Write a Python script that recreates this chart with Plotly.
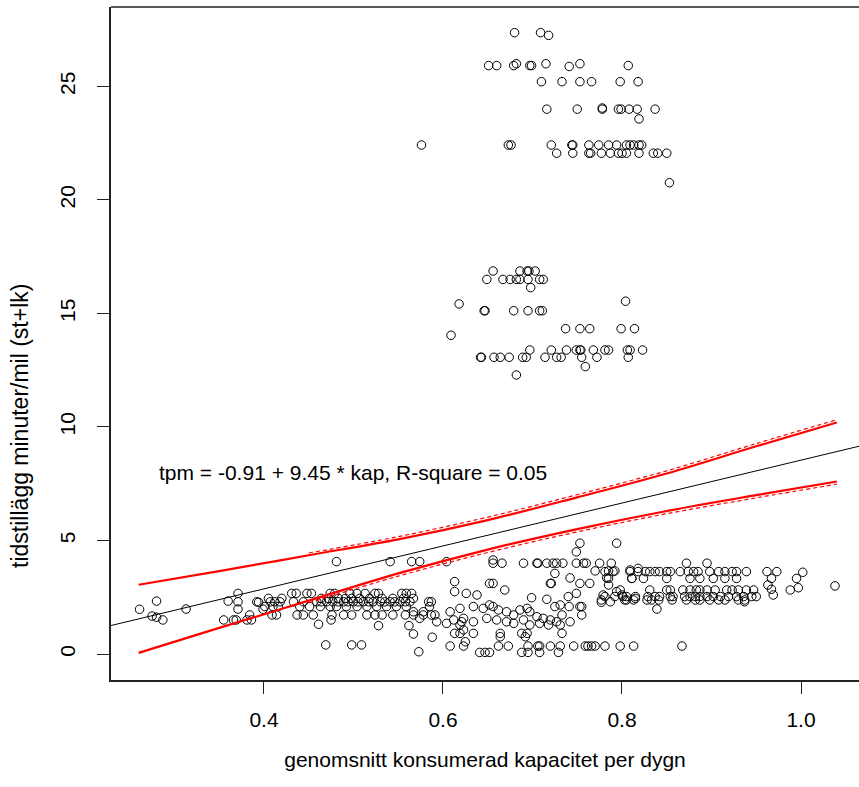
import plotly.graph_objects as go

# ---- scatter data (kap, tpm), grouped by cluster ----
top_pts = [
    (0.680, 27.37), (0.709, 27.37), (0.718, 27.25),
    (0.651, 25.92), (0.660, 25.92), (0.679, 25.92), (0.682, 26.0), (0.697, 25.92), (0.699, 25.92),
    (0.715, 26.0), (0.741, 25.88), (0.753, 26.0), (0.807, 25.92),
    (0.710, 25.21), (0.733, 25.21), (0.753, 25.21), (0.766, 25.21), (0.798, 25.21), (0.818, 25.21),
    (0.716, 24.0), (0.750, 24.0), (0.778, 24.0), (0.778, 24.05), (0.796, 24.0), (0.799, 24.0),
    (0.808, 24.0), (0.817, 24.0), (0.837, 24.0), (0.819, 23.57),
    (0.576, 22.42), (0.673, 22.42), (0.676, 22.42), (0.721, 22.42), (0.744, 22.42), (0.745, 22.42),
    (0.763, 22.42), (0.774, 22.42), (0.785, 22.42), (0.794, 22.42), (0.805, 22.42), (0.809, 22.42),
    (0.813, 22.42), (0.819, 22.42), (0.822, 22.42),
    (0.727, 22.06), (0.745, 22.06), (0.763, 22.06), (0.765, 22.06), (0.777, 22.06), (0.787, 22.06),
    (0.796, 22.06), (0.800, 22.06), (0.805, 22.06), (0.819, 22.06), (0.835, 22.06), (0.840, 22.06),
    (0.850, 22.06), (0.853, 20.76),
]

mid_pts = [
    (0.656, 16.87), (0.686, 16.87), (0.694, 16.87), (0.696, 16.87), (0.703, 16.87),
    (0.649, 16.5), (0.667, 16.5), (0.675, 16.5), (0.682, 16.5), (0.686, 16.5), (0.695, 16.5),
    (0.708, 16.5), (0.712, 16.5), (0.698, 16.14), (0.618, 15.42), (0.804, 15.54),
    (0.646, 15.12), (0.647, 15.12), (0.679, 15.12), (0.695, 15.12), (0.708, 15.12), (0.711, 15.12),
    (0.737, 14.33), (0.753, 14.33), (0.764, 14.33), (0.799, 14.33), (0.814, 14.33), (0.609, 14.04),
    (0.697, 13.39), (0.721, 13.39), (0.738, 13.39), (0.749, 13.39), (0.753, 13.39), (0.754, 13.39),
    (0.768, 13.39), (0.781, 13.39), (0.785, 13.39), (0.806, 13.39), (0.809, 13.39), (0.823, 13.39),
    (0.642, 13.07), (0.643, 13.07), (0.657, 13.07), (0.664, 13.07), (0.674, 13.07), (0.689, 13.07),
    (0.693, 13.07), (0.714, 13.07), (0.727, 13.07), (0.732, 13.07), (0.755, 13.07), (0.772, 13.07),
    (0.807, 13.07), (0.759, 12.66), (0.682, 12.29),
]

low_left_pts = [
    (0.261, 1.97), (0.280, 2.33), (0.275, 1.67), (0.280, 1.62), (0.287, 1.50), (0.313, 1.98),
    (0.355, 1.50), (0.360, 2.33), (0.371, 2.67), (0.371, 2.30), (0.371, 1.98), (0.366, 1.50),
    (0.369, 1.50), (0.381, 1.50), (0.386, 1.50), (0.394, 2.28), (0.399, 1.97),
    (0.481, 4.07), (0.541, 4.07), (0.565, 4.07), (0.574, 4.07),
    (0.431, 2.67), (0.436, 2.67), (0.448, 2.67), (0.453, 2.67), (0.474, 2.67), (0.479, 2.67),
    (0.496, 2.67), (0.504, 2.67), (0.513, 2.67), (0.524, 2.67), (0.528, 2.67), (0.554, 2.67),
    (0.559, 2.67), (0.565, 2.67),
    (0.405, 2.45), (0.420, 2.45), (0.464, 2.45), (0.472, 2.45), (0.483, 2.45), (0.491, 2.45),
    (0.498, 2.45), (0.507, 2.45), (0.518, 2.45), (0.532, 2.45), (0.544, 2.45), (0.556, 2.45),
    (0.567, 2.45),
    (0.392, 2.30), (0.407, 2.30), (0.412, 2.30), (0.418, 2.30), (0.433, 2.30), (0.444, 2.30),
    (0.459, 2.30), (0.464, 2.30), (0.470, 2.30), (0.477, 2.30), (0.483, 2.30), (0.489, 2.30),
    (0.494, 2.30), (0.500, 2.30), (0.505, 2.30), (0.511, 2.30), (0.517, 2.30), (0.522, 2.30),
    (0.530, 2.30), (0.535, 2.30), (0.541, 2.30), (0.546, 2.30), (0.552, 2.30), (0.558, 2.30),
    (0.563, 2.30), (0.584, 2.30), (0.587, 2.30),
    (0.401, 2.09), (0.410, 2.09), (0.416, 2.09), (0.440, 2.09), (0.451, 2.09), (0.463, 2.09),
    (0.474, 2.09), (0.481, 2.09), (0.492, 2.09), (0.504, 2.09), (0.515, 2.09), (0.526, 2.09),
    (0.537, 2.09), (0.548, 2.09), (0.559, 2.09), (0.585, 2.09),
    (0.384, 1.72), (0.409, 1.72), (0.414, 1.72), (0.437, 1.72), (0.444, 1.72), (0.455, 1.72),
    (0.476, 1.72), (0.489, 1.72), (0.498, 1.72), (0.515, 1.72), (0.524, 1.72), (0.532, 1.72),
    (0.544, 1.72), (0.558, 1.72), (0.567, 1.72), (0.578, 1.72), (0.591, 1.72),
    (0.567, 1.86), (0.578, 1.86), (0.574, 1.57), (0.593, 1.42), (0.461, 1.31), (0.475, 1.50),
    (0.528, 1.25), (0.562, 1.25), (0.567, 0.88), (0.588, 0.74), (0.469, 0.40), (0.498, 0.40),
    (0.509, 0.40), (0.573, 0.10), (0.587, 1.72),
]

low_mid_pts = [
    (0.604, 4.07), (0.656, 4.14), (0.656, 4.0), (0.666, 4.0), (0.690, 4.0), (0.705, 4.0),
    (0.706, 4.0), (0.716, 4.0), (0.723, 4.0), (0.727, 4.0), (0.734, 4.0), (0.749, 4.0),
    (0.757, 4.0), (0.760, 4.0), (0.749, 4.5), (0.753, 4.88), (0.725, 3.55), (0.742, 3.35),
    (0.613, 3.19), (0.652, 3.11), (0.656, 3.11), (0.720, 3.11), (0.721, 3.11), (0.753, 3.11),
    (0.764, 3.11), (0.613, 2.75), (0.626, 2.67), (0.638, 2.60), (0.669, 2.82), (0.699, 2.48),
    (0.716, 2.41), (0.740, 2.53), (0.749, 2.67), (0.731, 2.16), (0.725, 2.09), (0.755, 2.09),
    (0.755, 1.72), (0.741, 2.09), (0.742, 1.42), (0.753, 2.09),
    (0.608, 1.86), (0.619, 2.01), (0.634, 2.09), (0.645, 2.01), (0.652, 2.16), (0.656, 2.09),
    (0.662, 1.94), (0.671, 1.86), (0.679, 1.72), (0.686, 1.94), (0.694, 2.01), (0.697, 1.86),
    (0.705, 1.64), (0.712, 1.57), (0.720, 1.50), (0.727, 1.42), (0.733, 1.72), (0.612, 1.50),
    (0.623, 1.57), (0.634, 1.42), (0.649, 1.57), (0.660, 1.50), (0.671, 1.42), (0.679, 1.35),
    (0.690, 1.50), (0.697, 1.28), (0.708, 1.35), (0.718, 1.28), (0.731, 1.28), (0.604, 1.35),
    (0.619, 1.28), (0.621, 1.42), (0.623, 1.06), (0.625, 0.54),
    (0.613, 0.91), (0.619, 0.91), (0.634, 0.91), (0.664, 0.91), (0.688, 0.91), (0.694, 0.91),
    (0.733, 0.91), (0.664, 0.76), (0.692, 0.76),
    (0.608, 0.35), (0.623, 0.35), (0.662, 0.35), (0.673, 0.35), (0.695, 0.35), (0.706, 0.35),
    (0.708, 0.35), (0.720, 0.35), (0.731, 0.35), (0.746, 0.35), (0.759, 0.35), (0.762, 0.35),
    (0.766, 0.35), (0.770, 0.35), (0.781, 0.35), (0.798, 0.35), (0.813, 0.35), (0.867, 0.35),
    (0.641, 0.07), (0.647, 0.07), (0.652, 0.07), (0.688, 0.07), (0.695, 0.07), (0.708, 0.07),
    (0.729, 0.07),
]

low_right_pts = [
    (0.794, 4.88), (0.770, 3.66), (0.785, 3.66), (0.792, 3.66), (0.783, 3.35), (0.775, 4.0),
    (0.788, 4.0), (0.872, 4.0), (0.895, 4.0),
    (0.781, 3.63), (0.790, 3.63), (0.809, 3.63), (0.818, 3.63), (0.826, 3.63), (0.831, 3.63),
    (0.837, 3.63), (0.842, 3.63), (0.850, 3.63), (0.854, 3.63), (0.865, 3.63), (0.874, 3.63),
    (0.880, 3.63), (0.885, 3.63), (0.898, 3.63), (0.908, 3.63), (0.915, 3.63), (0.923, 3.63),
    (0.928, 3.63), (0.939, 3.63), (0.962, 3.63), (0.973, 3.63),
    (0.785, 3.33), (0.811, 3.33), (0.824, 3.33), (0.850, 3.33), (0.876, 3.33), (0.887, 3.33),
    (0.902, 3.33), (0.915, 3.33), (0.928, 3.33), (0.967, 3.33), (0.995, 3.33),
    (0.785, 3.04), (0.963, 3.04), (1.002, 3.60), (1.038, 3.0), (0.988, 2.82), (0.997, 2.92),
    (0.967, 2.85), (0.969, 2.60),
    (0.798, 2.82), (0.831, 2.82), (0.850, 2.82), (0.854, 2.82), (0.868, 2.82), (0.876, 2.82),
    (0.883, 2.82), (0.887, 2.82), (0.895, 2.82), (0.904, 2.82), (0.917, 2.82), (0.923, 2.82),
    (0.930, 2.82), (0.939, 2.82), (0.947, 2.82),
    (0.781, 2.53), (0.792, 2.53), (0.801, 2.53), (0.805, 2.53), (0.815, 2.53), (0.829, 2.53),
    (0.837, 2.53), (0.842, 2.53), (0.854, 2.53), (0.857, 2.53), (0.870, 2.53), (0.876, 2.53),
    (0.882, 2.53), (0.887, 2.53), (0.895, 2.53), (0.902, 2.53), (0.910, 2.53), (0.919, 2.53),
    (0.928, 2.53), (0.936, 2.53), (0.945, 2.53), (0.950, 2.53),
    (0.777, 2.38), (0.803, 2.38), (0.813, 2.38), (0.828, 2.38), (0.833, 2.38), (0.841, 2.38),
    (0.856, 2.38), (0.872, 2.38), (0.882, 2.38), (0.887, 2.38), (0.898, 2.38), (0.908, 2.38),
    (0.915, 2.38), (0.930, 2.38), (0.937, 2.38),
    (0.839, 1.98), (0.937, 2.30), (0.779, 2.6), (0.794, 2.75), (0.800, 2.6), (0.805, 2.38),
    (0.815, 2.45), (0.811, 3.33), (0.809, 3.7), (0.818, 3.77), (0.787, 2.30), (0.777, 2.28),
]

# ---- regression line (abline) and confidence band ----
fit_x = [0.2291, 1.0648]
fit_y = [1.255, 9.152]

band_x = [0.26, 0.35, 0.45, 0.55, 0.65, 0.75, 0.85, 0.95, 1.04]
band_upper = [3.05, 3.65, 4.35, 5.05, 5.90, 6.90, 7.95, 9.15, 10.20]
band_lower = [0.05, 1.15, 2.35, 3.55, 4.60, 5.50, 6.30, 7.00, 7.60]
# slightly offset dashed companions of the band lines
dash_x = [0.45, 0.55, 0.65, 0.75, 0.85, 0.95, 1.04]
dash_upper = [4.45, 5.17, 6.03, 7.02, 8.07, 9.27, 10.32]
dash_lower = [2.25, 3.43, 4.47, 5.38, 6.18, 6.88, 7.48]

x_ticks = [0.4, 0.6, 0.8, 1.0]
x_tick_labels = ["0.4", "0.6", "0.8", "1.0"]
y_ticks = [0, 5, 10, 15, 20, 25]

all_pts = top_pts + mid_pts + low_left_pts + low_mid_pts + low_right_pts
kap = [p[0] for p in all_pts]
tpm = [p[1] for p in all_pts]

FONT = "Arial, 'Liberation Sans', sans-serif"
FS = 21

fig = go.Figure()
fig.add_trace(go.Scatter(
    x=kap, y=tpm, mode="markers",
    marker=dict(symbol="circle-open", size=8.5, color="black", line=dict(width=1, color="black")),
    showlegend=False, hoverinfo="skip"))
fig.add_trace(go.Scatter(x=fit_x, y=fit_y, mode="lines",
                         line=dict(color="black", width=1), showlegend=False))
for yy in (dash_upper, dash_lower):
    fig.add_trace(go.Scatter(x=dash_x, y=yy, mode="lines",
                             line=dict(color="#ff0000", width=1.2, dash="4px,3px", shape="spline"),
                             showlegend=False))
for yy in (band_upper, band_lower):
    fig.add_trace(go.Scatter(x=band_x, y=yy, mode="lines",
                             line=dict(color="#ff0000", width=2.2, shape="spline"), showlegend=False))

fig.add_annotation(x=0.5, y=8.0, xref="x", yref="y",
                   text="tpm = -0.91 + 9.45 * kap, R-square = 0.05",
                   showarrow=False, font=dict(family=FONT, size=FS, color="black"))

# y-axis title placed as rotated text left of the tick labels
fig.add_annotation(x=0, y=10.84, xref="paper", yref="y", xshift=-91, yshift=-18,
                   text="tidstillägg minuter/mil (st+lk)", textangle=-90,
                   showarrow=False, xanchor="center", yanchor="middle",
                   font=dict(family=FONT, size=23, color="black"))

fig.update_layout(
    width=859, height=787,
    margin=dict(l=111, r=0, t=7, b=107),
    paper_bgcolor="white", plot_bgcolor="white",
    font=dict(family=FONT, color="black"),
    xaxis=dict(range=[0.2291, 1.0648], tickvals=x_ticks, ticktext=x_tick_labels,
               showgrid=False, zeroline=False, showline=True, linecolor="#222", linewidth=1.5,
               mirror=False, ticks="outside", ticklen=12, tickcolor="#222", tickwidth=1,
               tickfont=dict(size=FS), ticklabelstandoff=8,
               title=dict(text="genomsnitt konsumerad kapacitet per dygn",
                          font=dict(size=FS), standoff=22)),
    yaxis=dict(range=[-1.145, 28.50], tickvals=y_ticks, tickangle=-90,
               showgrid=False, zeroline=False, showline=True, linecolor="#222", linewidth=1.5,
               ticks="outside", ticklen=12, tickcolor="#222", tickwidth=1,
               tickfont=dict(size=FS), ticklabelstandoff=14),
    shapes=[dict(type="line", xref="paper", yref="paper", x0=0, x1=1, y0=1, y1=1,
                 line=dict(color="#222", width=1.5))],
)

fig.write_html("out.html", config={"displayModeBar": False},
               post_script="document.body.style.margin='0';document.body.style.overflow='hidden';")
